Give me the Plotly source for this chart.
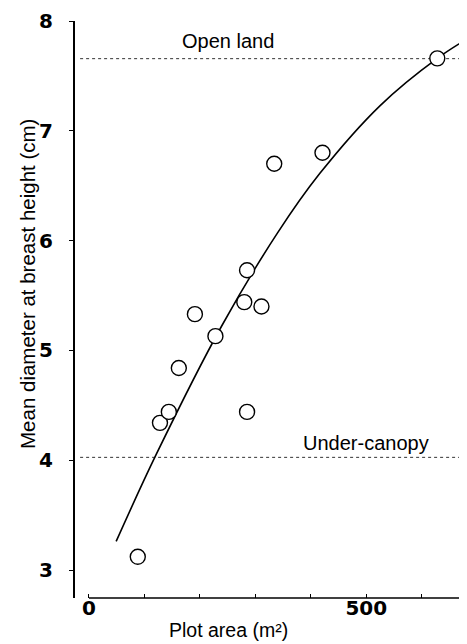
import plotly.graph_objects as go

# Observed data (plot area m², mean DBH cm)
plot_area = [88, 128, 144, 162, 191, 228, 280, 285, 311, 285, 334, 421, 628]
mean_dbh = [3.12, 4.34, 4.44, 4.84, 5.33, 5.13, 5.44, 5.73, 5.40, 4.44, 6.70, 6.80, 7.66]

# Fitted curve, points
curve_x = [49, 121, 239, 340, 416, 525, 628, 696]
curve_y = [3.26, 4.05, 5.22, 6.07, 6.61, 7.23, 7.66, 7.88]

# Reference levels
open_land = 7.657
under_canopy = 4.026

x_tickvals = [0, 100, 200, 300, 400, 500, 600]
x_ticktext = ["0", "", "", "", "", "500", ""]
y_tickvals = [3, 4, 5, 6, 7, 8]

FONT = "Liberation Sans"
TICKFONT = "DejaVu Sans"

W, H = 467, 644
ML, MR, MT, MB = 67, 0, 13, 54
plot_w = W - ML - MR
plot_h = H - MT - MB


def px_x(px):
    return (px - ML) / plot_w


def px_y(py):
    return (H - MB - py) / plot_h


fig = go.Figure()
fig.add_trace(go.Scatter(x=curve_x, y=curve_y, mode="lines",
                         line=dict(color="black", width=1.6, shape="spline", smoothing=1.0),
                         hoverinfo="skip", showlegend=False))
fig.add_trace(go.Scatter(x=plot_area, y=mean_dbh, mode="markers",
                         marker=dict(size=15, color="white", line=dict(color="black", width=1.4)),
                         showlegend=False, cliponaxis=False))

for lvl in (open_land, under_canopy):
    fig.add_shape(type="line", xref="x", yref="y", x0=-16, x1=696, y0=lvl, y1=lvl,
                  line=dict(color="#333", width=1, dash="dot"), layer="below")

# x-axis baseline (offset from y axis)
fig.add_shape(type="line", xref="x", yref="paper", x0=0, x1=696, y0=0, y1=0,
              line=dict(color="black", width=1.6))

fig.add_annotation(x=px_x(172), y=px_y(33), xref="paper", yref="paper", text="Open land",
                   showarrow=False, xanchor="left", yanchor="middle",
                   font=dict(family=FONT, size=20, color="black"))
fig.add_annotation(x=px_x(293), y=px_y(435), xref="paper", yref="paper", text="Under-canopy",
                   showarrow=False, xanchor="left", yanchor="middle",
                   font=dict(family=FONT, size=20, color="black"))

# axis titles
fig.add_annotation(x=px_x(220), y=px_y(622), xref="paper", yref="paper", text="Plot area (m²)",
                   showarrow=False, xanchor="center", yanchor="middle",
                   font=dict(family=FONT, size=19.5, color="black"))
fig.add_annotation(x=px_x(19), y=px_y(276), xref="paper", yref="paper",
                   text="Mean diameter at breast height (cm)",
                   showarrow=False, textangle=-90, xanchor="center", yanchor="middle",
                   font=dict(family=FONT, size=20.5, color="black"))

fig.update_layout(
    width=W, height=H,
    margin=dict(l=ML, r=MR, t=MT, b=MB),
    paper_bgcolor="white", plot_bgcolor="white",
    xaxis=dict(range=[-25.2, 696], showgrid=False, zeroline=False, showline=False,
               tickvals=x_tickvals, ticktext=x_ticktext, ticks="inside", ticklen=4,
               tickwidth=1.2, tickcolor="black", ticklabelstandoff=-4,
               tickfont=dict(family=TICKFONT, size=20, color="black", weight="bold")),
    yaxis=dict(range=[2.745, 8.0], showgrid=False, zeroline=False, showline=True,
               linecolor="black", linewidth=2, tickvals=y_tickvals, ticks="outside",
               ticklen=4, tickwidth=1.2, tickcolor="black", ticklabelstandoff=12,
               tickfont=dict(family=TICKFONT, size=20, color="black", weight="bold")),
)

fig.write_html("out.html")
